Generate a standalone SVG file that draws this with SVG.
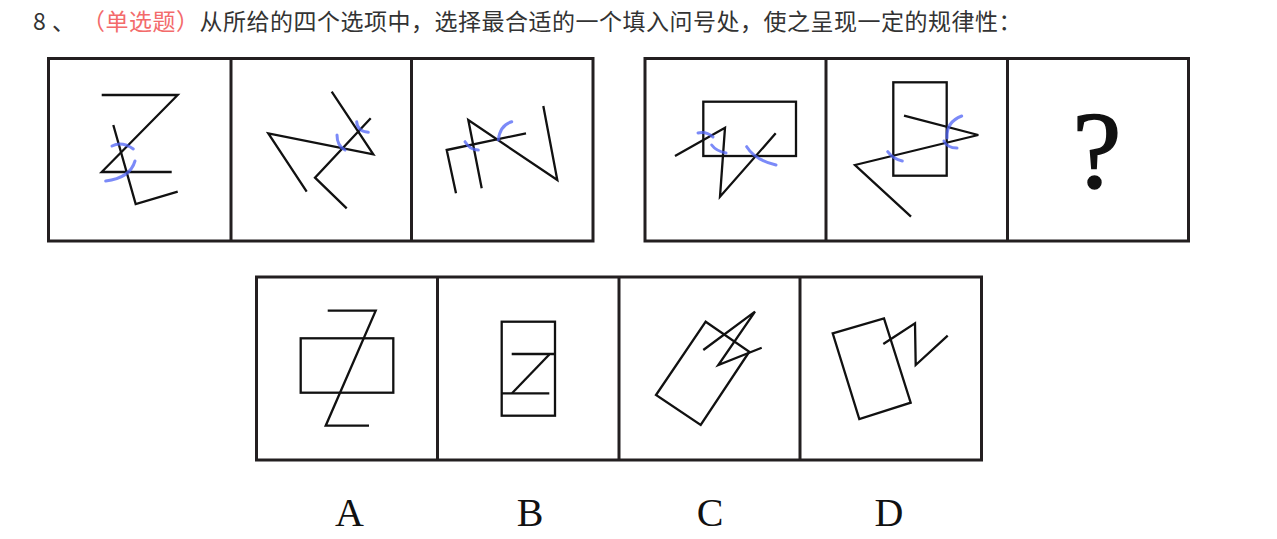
<svg xmlns="http://www.w3.org/2000/svg" width="1277" height="539" viewBox="0 0 1277 539">
<style>
.frame{fill:none;stroke:#231f20;stroke-width:3}
.fig{fill:none;stroke:#111;stroke-width:2.3;stroke-linejoin:miter;stroke-linecap:butt}
.mark{fill:none;stroke:#4f63f5;stroke-width:3;stroke-opacity:0.75;stroke-linecap:round}
.title{font-family:"Noto Sans CJK SC","Noto Sans",sans-serif;font-size:23px;fill:#333}
.opt{font-family:"Liberation Serif","Times New Roman",serif;font-size:40px;fill:#111;text-anchor:middle}
</style>
<rect width="1277" height="539" fill="#fff"/>
<g id="title">
<text class="title" x="33" y="30" font-family="Noto Sans, sans-serif">8</text>
<text class="title" x="52" y="30">、</text>
<text class="title" x="82" y="30" letter-spacing="0.5"><tspan fill="#f36b6b">（单选题）</tspan>从所给的四个选项中，选择最合适的一个填入问号处，使之呈现一定的规律性：</text>
</g>
<g id="frames">
<rect class="frame" x="48.5" y="58.5" width="544.5" height="182.5"/>
<line class="frame" x1="231" y1="58.5" x2="231" y2="241"/>
<line class="frame" x1="411.5" y1="58.5" x2="411.5" y2="241"/>
<rect class="frame" x="645" y="58.5" width="543.5" height="182.5"/>
<line class="frame" x1="826" y1="58.5" x2="826" y2="241"/>
<line class="frame" x1="1007.5" y1="58.5" x2="1007.5" y2="241"/>
<rect class="frame" x="256.5" y="277" width="725" height="183"/>
<line class="frame" x1="437.5" y1="277" x2="437.5" y2="460"/>
<line class="frame" x1="619" y1="277" x2="619" y2="460"/>
<line class="frame" x1="800" y1="277" x2="800" y2="460"/>
</g>
<g id="panel1">
<polyline class="fig" points="101.7,95 177.7,95 101.7,172 171.7,172"/>
<polyline class="fig" points="113.3,125 135.7,204 177.7,191.7"/>
<path class="mark" d="M112,146 Q122,141 133.3,149"/>
<path class="mark" d="M105.7,181 Q130,178 135,161"/>
</g>
<g id="panel2">
<polyline class="fig" points="331.7,91.7 373.3,154.3 268.3,133.3 306.7,191.7"/>
<polyline class="fig" points="370.7,118.3 315,177.7 346.7,208.3"/>
<path class="mark" d="M337,135 Q337,146 345,150"/>
<path class="mark" d="M356.7,121.7 Q357,131 368.3,132.3"/>
</g>
<g id="panel3">
<polyline class="fig" points="456,193.3 446.7,150 526,133.3"/>
<polyline class="fig" points="481.7,188.3 468.3,120 557.3,180 543.3,106"/>
<path class="mark" d="M465,141.7 Q470,150 478.3,150"/>
<path class="mark" d="M511.7,121.7 Q500,125 498.3,140"/>
</g>
<g id="panel4">
<rect class="fig" x="703.3" y="101.7" width="92.7" height="54.3"/>
<polyline class="fig" points="675,156 725,127.7 720,196.7 775.7,133.3"/>
<path class="mark" d="M698,133 Q706,131 713,137"/>
<path class="mark" d="M711.7,145 Q716,151 726,153"/>
<path class="mark" d="M746.7,146.7 Q755,160 776,165"/>
</g>
<g id="panel5">
<rect class="fig" x="893.3" y="82.3" width="53.4" height="93.4"/>
<polyline class="fig" points="904,115.7 978.3,135 855,165 911,216.7"/>
<path class="mark" d="M961.7,116 Q946,122 947,138"/>
<path class="mark" d="M944,141 Q947,148 957,148"/>
<path class="mark" d="M887.7,151.7 Q893,159 902.3,161"/>
</g>
<g id="panel6">
<text x="1097" y="187" font-family="Liberation Serif, serif" font-size="110" text-anchor="middle" fill="#111" stroke="#111" stroke-width="1.5">?</text>
</g>
<g id="optionA">
<rect class="fig" x="300.7" y="338.3" width="92.6" height="54.4"/>
<polyline class="fig" points="327.7,310.7 375.7,310.7 325.7,425.7 369,425.7"/>
</g>
<g id="optionB">
<rect class="fig" x="501.7" y="321.7" width="53.3" height="94"/>
<line class="fig" x1="511.7" y1="354" x2="555" y2="354"/>
<line class="fig" x1="549.3" y1="354.5" x2="512" y2="393.3"/>
<line class="fig" x1="501.7" y1="393.3" x2="549.3" y2="393.3"/>
</g>
<g id="optionC">
<polygon class="fig" points="705.7,321.7 749.3,351.7 700.7,425 656,395"/>
<polyline class="fig" points="703.3,350 755,311.7 718.3,365 761.7,347.7"/>
</g>
<g id="optionD">
<polygon class="fig" points="832.7,333.3 884,318.3 910.7,402.7 859.3,419"/>
<polyline class="fig" points="883.3,344 915,323.3 915.7,365 947.7,335.7"/>
</g>
<g id="labels">
<text class="opt" x="349.5" y="526">A</text>
<text class="opt" x="530" y="526">B</text>
<text class="opt" x="710" y="526">C</text>
<text class="opt" x="889" y="526">D</text>
</g>
</svg>
